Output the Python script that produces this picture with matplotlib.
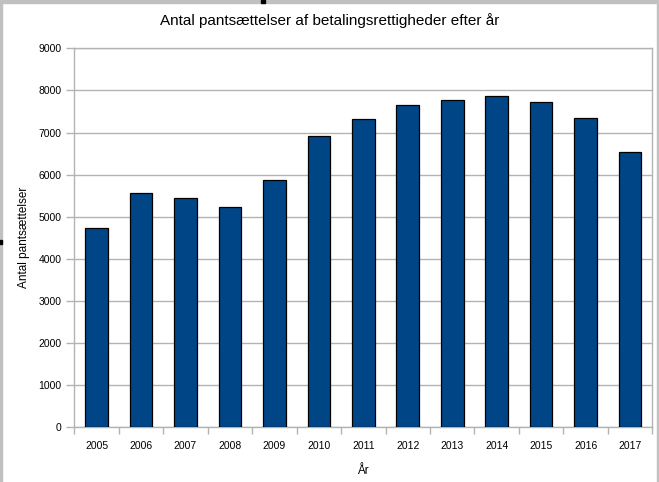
import matplotlib.pyplot as plt
from matplotlib.patches import Rectangle

years = ['2005', '2006', '2007', '2008', '2009', '2010', '2011',
         '2012', '2013', '2014', '2015', '2016', '2017']
counts = [4730, 5560, 5440, 5225, 5870, 6910, 7315,
          7650, 7765, 7860, 7720, 7340, 6530]
y_ticks = [0, 1000, 2000, 3000, 4000, 5000, 6000, 7000, 8000, 9000]

plt.rcParams['font.family'] = ['Liberation Sans', 'DejaVu Sans']

fig = plt.figure(figsize=(6.59, 4.82), dpi=100)
ax = fig.add_axes([74.3 / 659, 1 - 427.3 / 482, 578 / 659, 379 / 482])

x = list(range(len(years)))
ax.bar(x, counts, width=0.51, color='#004586', edgecolor='black',
       linewidth=0.9, zorder=3)

ax.set_xlim(-0.5, len(years) - 0.5)
ax.set_ylim(0, 9000)
ax.set_yticks(y_ticks)
ax.set_yticklabels([str(v) for v in y_ticks], fontsize=7.5)
ax.set_xticks(x)
ax.set_xticklabels(years, fontsize=7.5)
ax.tick_params(axis='x', length=0, pad=10)
ax.tick_params(axis='y', length=6, color='#b3b3b3', width=1, pad=3)

# category boundary ticks below the axis
ax.set_xticks([i - 0.5 for i in range(len(years) + 1)], minor=True)
ax.tick_params(axis='x', which='minor', length=5, color='#b3b3b3', width=1)

ax.grid(axis='y', color='#b3b3b3', linewidth=1, zorder=0)
for s in ax.spines.values():
    s.set_color('#b3b3b3')
    s.set_linewidth(1)

ax.set_xlabel('År', fontsize=8.5, labelpad=10)
ax.set_ylabel('Antal pantsættelser', fontsize=8.5, labelpad=6)
fig.suptitle('Antal pantsættelser af betalingsrettigheder efter år',
             fontsize=11, y=1 - 21 / 482, va='center')

# window frame remnants from the screenshot
fig.patches.append(Rectangle((0, 1 - 3 / 482), 1, 3 / 482, transform=fig.transFigure,
                             color='#c0c0c0', zorder=0))
fig.patches.append(Rectangle((261 / 659, 1 - 3 / 482), 4 / 659, 3 / 482,
                             transform=fig.transFigure, color='black', zorder=1))
fig.patches.append(Rectangle((0, 0), 1.5 / 659, 1, transform=fig.transFigure,
                             color='#c0c0c0', zorder=0))
fig.patches.append(Rectangle((0, 1 - 244 / 482), 1.5 / 659, 4 / 482,
                             transform=fig.transFigure, color='black', zorder=1))
fig.patches.append(Rectangle((1 - 2 / 659, 0), 2 / 659, 1, transform=fig.transFigure,
                             color='#c0c0c0', zorder=0))

fig.savefig('out.png', dpi=100)
